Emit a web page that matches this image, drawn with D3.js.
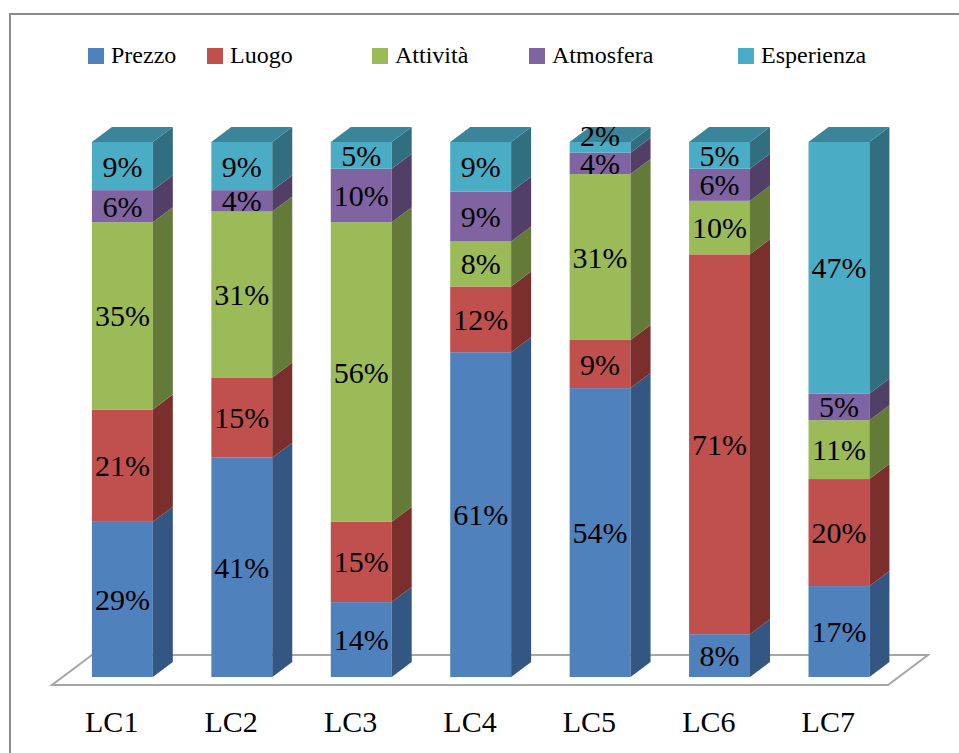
<!DOCTYPE html>
<html>
<head>
<meta charset="utf-8">
<script src="https://cdn.jsdelivr.net/npm/d3@7"></script>
<style>
  html, body { margin: 0; padding: 0; background: #fff; }
  svg { display: block; }
</style>
</head>
<body>
<svg id="chart" width="959" height="753"></svg>
<script>
// ---- data ----
const categories = ["LC1", "LC2", "LC3", "LC4", "LC5", "LC6", "LC7"];
const seriesNames = ["Prezzo", "Luogo", "Attività", "Atmosfera", "Esperienza"];
const prezzo     = [29, 41, 14, 60.7, 54,  8, 17];
const luogo      = [21, 15, 15, 12.3,  9, 71, 20];
const attivita   = [35, 31, 56,  8.4, 31, 10, 11];
const atmosfera  = [ 6,  4, 10,  9.3,  4,  6,  5];
const esperienza = [ 9,  9,  5,  9.3,  2,  5, 47];

// ---- styles ----
const FONT = '"Liberation Serif", "Times New Roman", serif';
const frontColors = ["#4F81BD", "#C0504D", "#9BBB59", "#8064A2", "#4BACC6"];
const sideColors  = ["#335682", "#7A2F2D", "#647A38", "#513F68", "#316F80"];
const topColors   = ["#3F6A9C", "#9E403D", "#7F9A48", "#6A5287", "#3A8599"];
const legendX = [88, 207, 372, 529, 738];

const seriesValues = [prezzo, luogo, attivita, atmosfera, esperienza];
const table = categories.map((c, i) => {
  const row = { cat: c };
  seriesNames.forEach((s, j) => row[s] = seriesValues[j][i]);
  return row;
});
const fmt = v => Math.round(v) + "%";

const svg = d3.select("#chart").style("font-family", FONT);

// outer border
svg.append("rect")
  .attr("x", 10).attr("y", 14)
  .attr("width", 980).attr("height", 780)
  .attr("fill", "#fff")
  .attr("stroke", "#8c8c8c").attr("stroke-width", 2);

// ---- geometry ----
const floorFrontY = 685, floorDX = 40, floorDY = -30;
const barDX = 20, barDY = -15;
const barInset = 8;

const x = d3.scaleBand()
  .domain(categories)
  .range([52, 888])
  .paddingInner(0)
  .paddingOuter(0);

const barW = x.bandwidth() * 0.51;
const shiftX = barInset * floorDX / -floorDY;
const y = d3.scaleLinear().domain([0, 1]).range([floorFrontY - barInset, 142]);

// floor
const [fx0, fx1] = x.range();
svg.append("path")
  .attr("d", d3.line()([
    [fx0, floorFrontY], [fx1, floorFrontY],
    [fx1 + floorDX, floorFrontY + floorDY], [fx0 + floorDX, floorFrontY + floorDY]
  ]) + "Z")
  .attr("fill", "#fff")
  .attr("stroke", "#a6a6a6")
  .attr("stroke-width", 2);

const stack = d3.stack().keys(seriesNames).offset(d3.stackOffsetExpand);
const stacked = stack(table);

const bars = svg.append("g");
categories.forEach((c, i) => {
  const left = x(c) + x.bandwidth() / 2 + shiftX - barW / 2;
  const right = left + barW;
  const g = bars.append("g");
  stacked.forEach((layer, j) => {
    const d = layer[i];
    const yb = y(d[0]), yt = y(d[1]);
    g.append("rect")
      .attr("x", left).attr("y", yt)
      .attr("width", barW).attr("height", yb - yt)
      .attr("fill", frontColors[j]);
    g.append("path")
      .attr("d", d3.line()([
        [right, yb], [right, yt], [right + barDX, yt + barDY], [right + barDX, yb + barDY]
      ]) + "Z")
      .attr("fill", sideColors[j]);
    if (j === stacked.length - 1) {
      g.append("path")
        .attr("d", d3.line()([
          [left, yt], [right, yt], [right + barDX, yt + barDY], [left + barDX, yt + barDY]
        ]) + "Z")
        .attr("fill", topColors[j]);
    }
  });
  stacked.forEach((layer, j) => {
    const d = layer[i];
    const yb = y(d[0]), yt = y(d[1]);
    const h = yb - yt;
    const cy = h < 15 ? yt - 7 : (yb + yt) / 2;
    g.append("text")
      .attr("x", left + barW / 2)
      .attr("y", cy)
      .attr("dy", "0.35em")
      .attr("text-anchor", "middle")
      .style("font-family", FONT)
      .style("font-size", "30px")
      .style("fill", "#000")
      .text(fmt(seriesValues[j][i]));
  });
});

// category axis
const axis = d3.axisBottom(x).tickSize(0).tickPadding(0);
const axG = svg.append("g")
  .attr("transform", `translate(0, ${floorFrontY + 21})`)
  .call(axis);
axG.select(".domain").remove();
axG.selectAll("text")
  .attr("dy", "0.85em")
  .style("font-size", "30px")
  .style("fill", "#000")
  .style("font-family", FONT);

// legend
const legend = svg.append("g");
seriesNames.forEach((s, j) => {
  legend.append("rect")
    .attr("x", legendX[j]).attr("y", 48)
    .attr("width", 16).attr("height", 16)
    .attr("fill", frontColors[j]);
  legend.append("text")
    .attr("x", legendX[j] + 23).attr("y", 63)
    .style("font-family", FONT)
    .style("font-size", "24px")
    .style("fill", "#000")
    .text(s);
});
</script>
</body>
</html>
